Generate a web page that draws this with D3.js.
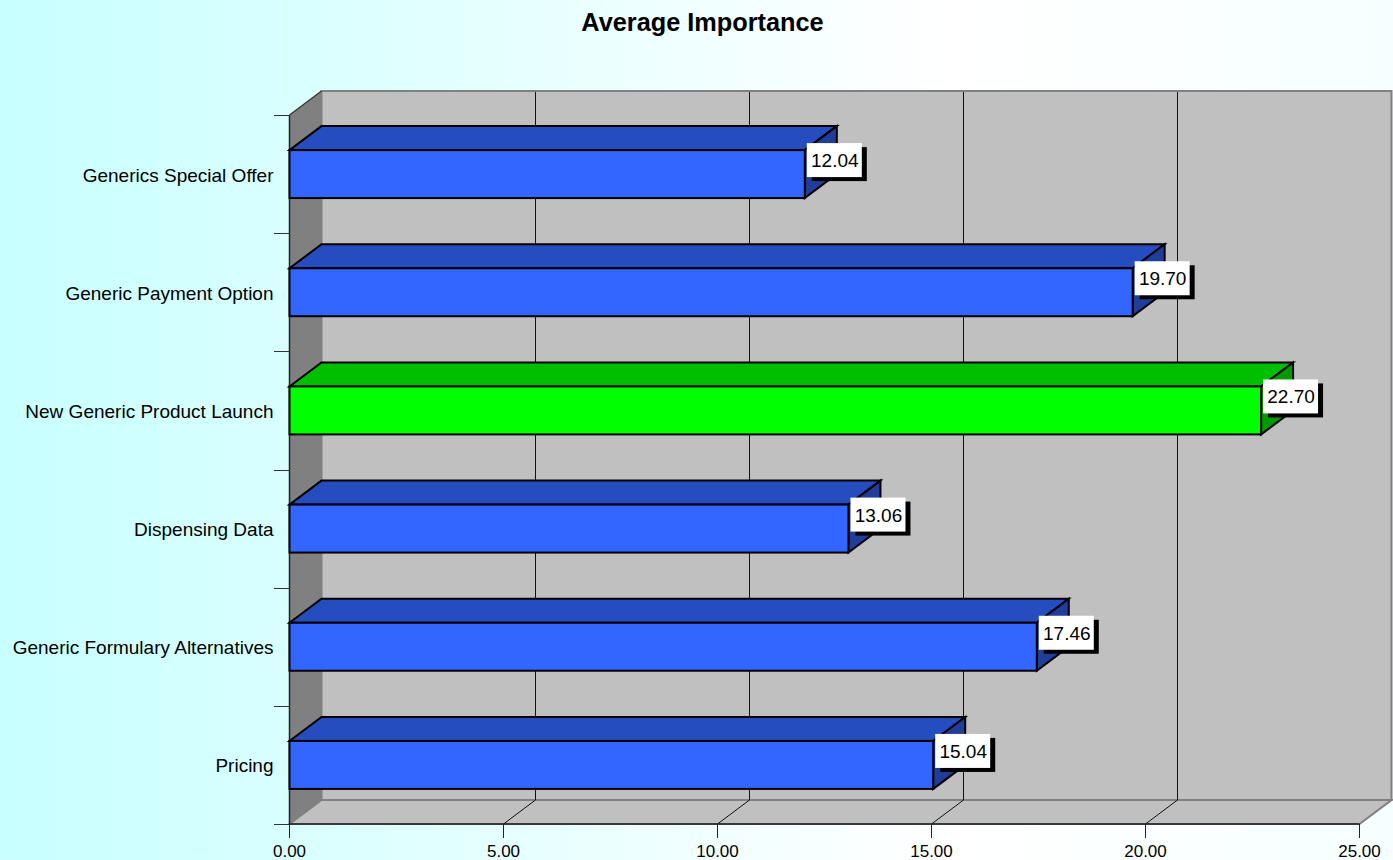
<!DOCTYPE html>
<html>
<head>
<meta charset="utf-8">
<script src="https://cdn.jsdelivr.net/npm/d3@7/dist/d3.min.js"></script>
<style>
html,body{margin:0;padding:0;overflow:hidden;background:#fff}
svg{display:block}
text{font-family:"Liberation Sans",Arial,sans-serif;fill:#000}
</style>
</head>
<body>
<svg id="chart" width="1393" height="860"></svg>
<script>
const categories = ["Generics Special Offer","Generic Payment Option","New Generic Product Launch","Dispensing Data","Generic Formulary Alternatives","Pricing"];
const values = [12.04,19.70,22.70,13.06,17.46,15.04];
const highlighted = ["New Generic Product Launch"];
const xTicks = [0,5,10,15,20,25];
const titleText = "Average Importance";

const W=1393,H=860, dx=32, dy=-24;
const x=d3.scaleLinear().domain([0,25]).range([289.5,1359.5]);
const y=d3.scaleBand().domain(categories).range([115,824]).paddingInner(0.594).paddingOuter(0.297);
const band=d3.scaleBand().domain(categories).range([115,824]);
const svg=d3.select("#chart");

const defs=svg.append("defs");
const g=defs.append("linearGradient").attr("id","bg");
g.append("stop").attr("offset","0").attr("stop-color","#c8ffff");
g.append("stop").attr("offset","0.29").attr("stop-color","#e0ffff");
g.append("stop").attr("offset","0.68").attr("stop-color","#ffffff");
g.append("stop").attr("offset","1").attr("stop-color","#f6ffff");
svg.append("rect").attr("width",W).attr("height",H).attr("fill","url(#bg)");

const x0=x(0), x1=x(25), yT=band.range()[0], yB=band.range()[1];
const poly=(pts)=>pts.map(p=>p.join(",")).join(" ");

// walls
svg.append("polygon").attr("points",poly([[x0+dx,yT+dy],[x1+dx,yT+dy],[x1+dx,yB+dy],[x0+dx,yB+dy]]))
  .attr("fill","#c0c0c0").attr("stroke","#808080").attr("stroke-width",2);
svg.append("polygon").attr("points",poly([[x0,yB],[x1,yB],[x1+dx,yB+dy],[x0+dx,yB+dy]]))
  .attr("fill","#c0c0c0").attr("stroke","#808080").attr("stroke-width",2);
svg.append("polygon").attr("points",poly([[x0,yT],[x0+dx,yT+dy],[x0+dx,yB+dy],[x0,yB]]))
  .attr("fill","#808080");
svg.append("line").attr("x1",x0).attr("y1",yT).attr("x2",x0+dx).attr("y2",yT+dy).attr("stroke","#333").attr("stroke-width",1.2);

// grid
const inner=xTicks.slice(1,-1);
svg.selectAll(".grid").data(inner).enter().append("line")
  .attr("x1",d=>x(d)+dx).attr("x2",d=>x(d)+dx).attr("y1",yT+dy+1).attr("y2",yB+dy).attr("stroke","#111").attr("stroke-width",1);
svg.selectAll(".floor").data(inner).enter().append("line")
  .attr("x1",d=>x(d)).attr("x2",d=>x(d)+dx).attr("y1",yB).attr("y2",yB+dy).attr("stroke","#111").attr("stroke-width",1);

// axes lines
svg.append("line").attr("x1",x0).attr("x2",x0).attr("y1",yT).attr("y2",yB).attr("stroke","#222").attr("stroke-width",1.5);
svg.append("line").attr("x1",x0).attr("x2",x1).attr("y1",yB).attr("y2",yB).attr("stroke","#222").attr("stroke-width",1.5);
const yTickPos=categories.map(c=>band(c)).concat([yB]);
svg.selectAll(".yt").data(yTickPos).enter().append("line")
  .attr("x1",274).attr("x2",x0).attr("y1",d=>Math.round(d)+.5).attr("y2",d=>Math.round(d)+.5).attr("stroke","#333").attr("stroke-width",1);
svg.selectAll(".xt").data(xTicks).enter().append("line")
  .attr("x1",d=>x(d)).attr("x2",d=>x(d)).attr("y1",yB).attr("y2",yB+14).attr("stroke","#222").attr("stroke-width",1);
svg.selectAll(".xl").data(xTicks).enter().append("text")
  .attr("x",d=>x(d)).attr("y",857).attr("text-anchor","middle").attr("font-size",17).text(d=>d3.format(".2f")(d));
svg.selectAll(".yl").data(categories).enter().append("text")
  .attr("x",273.5).attr("y",d=>band(d)+band.bandwidth()/2+7.5).attr("text-anchor","end").attr("font-size",19).text(d=>d);

// bars
const rows=categories.map((c,i)=>({c,v:values[i],hi:highlighted.includes(c)}));
const bars=svg.selectAll(".bar").data(rows).enter().append("g");
const stroke=s=>s.attr("stroke","#000").attr("stroke-width",2).attr("stroke-linejoin","miter");
bars.append("polygon").attr("points",d=>{const t=y(d.c),e=x(d.v);return poly([[x0,t],[x0+dx,t+dy],[e+dx,t+dy],[e,t]])})
  .attr("fill",d=>d.hi?"#00bf00":"#264dbf").call(stroke);
bars.append("polygon").attr("points",d=>{const t=y(d.c),b=t+y.bandwidth(),e=x(d.v);return poly([[e,t],[e+dx,t+dy],[e+dx,b+dy],[e,b]])})
  .attr("fill",d=>d.hi?"#009900":"#1f3d99").call(stroke);
bars.append("rect").attr("x",x0).attr("y",d=>y(d.c)).attr("width",d=>x(d.v)-x0).attr("height",y.bandwidth())
  .attr("fill",d=>d.hi?"#00ff00":"#3366ff").call(stroke);

// value labels
const labels=svg.selectAll(".lab").data(rows).enter().append("g");
labels.append("rect").attr("x",d=>x(d.v)+7).attr("y",d=>y(d.c)-3).attr("width",55).attr("height",34).attr("fill","#000");
labels.append("rect").attr("x",d=>x(d.v)+2).attr("y",d=>y(d.c)-7).attr("width",55).attr("height",34).attr("fill","#fff");
labels.append("text").attr("x",d=>x(d.v)+30).attr("y",d=>y(d.c)+17).attr("text-anchor","middle").attr("font-size",19)
  .text(d=>d3.format(".2f")(d.v));

svg.append("text").attr("x",702.5).attr("y",31).attr("text-anchor","middle").attr("font-size",25.3).attr("font-weight","bold").text(titleText);
</script>
</body>
</html>
